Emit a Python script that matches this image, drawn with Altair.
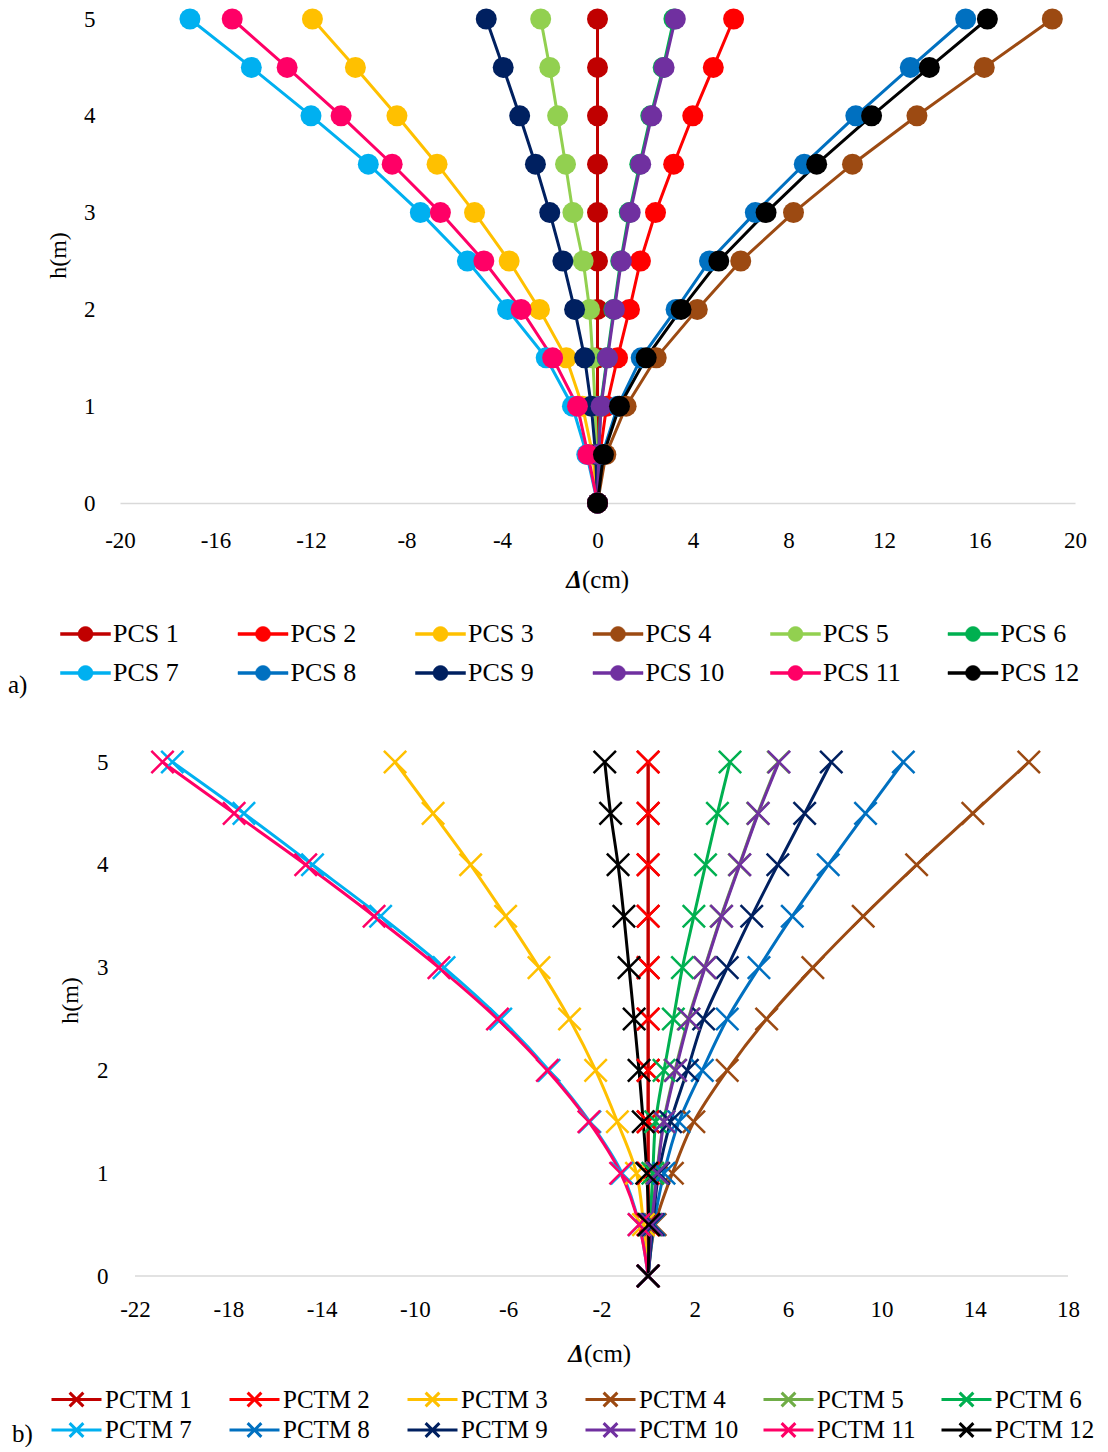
import math
import altair as alt
import pandas as pd

FONT = "Liberation Serif"

H = [0, 0.5, 1, 1.5, 2, 2.5, 3, 3.5, 4, 4.5, 5]

# ---------- panel a) : PCS series ----------
PCS_NAMES = ["PCS 1", "PCS 2", "PCS 3", "PCS 4", "PCS 5", "PCS 6",
             "PCS 7", "PCS 8", "PCS 9", "PCS 10", "PCS 11", "PCS 12"]
PCS_COLORS = ["#C00000", "#FF0000", "#FFC000", "#9C4A12", "#92D050", "#00B050",
              "#00B0F0", "#0070C0", "#002060", "#7030A0", "#FF0066", "#000000"]
pcs1 = [0, 0, 0, 0, 0, 0, 0, 0, 0, 0, 0]
pcs2 = [0, 0.1, 0.38, 0.84, 1.34, 1.8, 2.43, 3.19, 3.99, 4.85, 5.7]
pcs3 = [0, -0.2, -0.63, -1.31, -2.43, -3.7, -5.15, -6.72, -8.4, -10.14, -11.94]
pcs4 = [0, 0.35, 1.2, 2.46, 4.18, 6.0, 8.21, 10.68, 13.38, 16.2, 19.05]
pcs5 = [0, -0.04, -0.1, -0.2, -0.33, -0.6, -1.03, -1.34, -1.67, -2.0, -2.38]
pcs6 = [0, 0.04, 0.13, 0.4, 0.68, 0.97, 1.33, 1.77, 2.23, 2.75, 3.2]
pcs7 = [0, -0.45, -1.05, -2.15, -3.77, -5.45, -7.42, -9.6, -12.0, -14.5, -17.07]
pcs8 = [0, 0.2, 0.85, 1.83, 3.29, 4.69, 6.61, 8.66, 10.82, 13.1, 15.42]
pcs9 = [0, -0.08, -0.26, -0.54, -0.96, -1.45, -2.0, -2.6, -3.26, -3.95, -4.66]
pcs10 = [0, 0.05, 0.15, 0.42, 0.71, 1.0, 1.37, 1.81, 2.27, 2.79, 3.26]
pcs11 = [0, -0.4, -0.84, -1.88, -3.2, -4.76, -6.58, -8.6, -10.74, -13.0, -15.3]
pcs12 = [0, 0.25, 0.92, 2.04, 3.5, 5.08, 7.06, 9.18, 11.48, 13.9, 16.33]
PCS_VALUES = [pcs1, pcs2, pcs3, pcs4, pcs5, pcs6, pcs7, pcs8, pcs9, pcs10, pcs11, pcs12]
A_TICKS = [-20, -16, -12, -8, -4, 0, 4, 8, 12, 16, 20]

# ---------- panel b) : PCTM series ----------
PCTM_NAMES = ["PCTM 1", "PCTM 2", "PCTM 3", "PCTM 4", "PCTM 5", "PCTM 6",
              "PCTM 7", "PCTM 8", "PCTM 9", "PCTM 10", "PCTM 11", "PCTM 12"]
PCTM_COLORS = ["#C00000", "#FF0000", "#FFC000", "#9C4A12", "#70AD47", "#00B050",
               "#00B0F0", "#0070C0", "#002060", "#7030A0", "#FF0066", "#000000"]
pctm1 = [0, 0, 0, 0, 0, 0, 0, 0, 0, 0, 0]
pctm2 = [0, 0, 0, 0, 0, 0, 0, 0, 0, 0, 0]
pctm3 = [0, -0.2, -0.5, -1.32, -2.25, -3.37, -4.68, -6.11, -7.61, -9.22, -10.85]
pctm4 = [0, 0.3, 1.04, 1.96, 3.39, 5.08, 7.06, 9.22, 11.51, 13.92, 16.32]
pctm5 = [0, 0.14, 0.37, 0.66, 1.15, 1.72, 2.42, 3.13, 3.91, 4.7, 5.58]
pctm6 = [0, 0.08, 0.2, 0.32, 0.68, 1.08, 1.47, 1.96, 2.46, 2.97, 3.51]
pctm7 = [0, -0.38, -1.12, -2.5, -4.25, -6.32, -8.75, -11.47, -14.39, -17.33, -20.4]
pctm8 = [0, 0.25, 0.68, 1.32, 2.32, 3.39, 4.75, 6.18, 7.72, 9.32, 10.94]
pctm9 = [0, 0.2, 0.45, 0.96, 1.68, 2.38, 3.39, 4.44, 5.56, 6.71, 7.85]
pctm10 = [0, 0.15, 0.39, 0.68, 1.18, 1.75, 2.44, 3.15, 3.93, 4.72, 5.61]
pctm11 = [0, -0.39, -1.18, -2.54, -4.32, -6.46, -8.97, -11.75, -14.68, -17.75, -20.82]
pctm12 = [0, 0.03, -0.06, -0.21, -0.39, -0.6, -0.82, -1.04, -1.29, -1.61, -1.86]
PCTM_VALUES = [pctm1, pctm2, pctm3, pctm4, pctm5, pctm6, pctm7, pctm8, pctm9,
               pctm10, pctm11, pctm12]
B_TICKS = [-22, -18, -14, -10, -6, -2, 2, 6, 10, 14, 18]
B_AXIS_RANGE = [-22, 18]

Y_TICKS = [0, 1, 2, 3, 4, 5]


def long_frame(names, values):
    rows = []
    for name, vals in zip(names, values):
        for h, v in zip(H, vals):
            rows.append({"series": name, "h": h, "d": v})
    return pd.DataFrame(rows)


def text_mark(txt, x, y, size, weight="normal", style="normal", align="left"):
    return alt.Chart(pd.DataFrame({"t": [txt]})).mark_text(
        font=FONT, fontSize=size, fontWeight=weight, fontStyle=style,
        align=align, baseline="middle", color="black"
    ).encode(text="t:N", x=alt.value(x), y=alt.value(y))


# legend glyphs (line through a marker), polygon circle avoids arc commands
_circ = "M" + "L".join(
    "%.3f,%.3f" % (0.6 * math.cos(2 * math.pi * k / 24), 0.6 * math.sin(2 * math.pi * k / 24))
    for k in range(24)) + "Z"
LEG_A_PATH = "M-2,-0.12L2,-0.12L2,0.12L-2,0.12Z" + _circ
LEG_B_PATH = "M-2,0L2,0M-0.55,-0.55L0.55,0.55M-0.55,0.55L0.55,-0.55"
X_SHAPE = "M-1,-1L1,1M-1,1L1,-1"
HYPHEN_LABEL = "toString(datum.value)"

# ---------------- panel a ----------------
WA, HA = 955, 484
dfa = long_frame(PCS_NAMES, PCS_VALUES)
leg_a = alt.Legend(title=None, orient="none", legendX=-47.5, legendY=602,
                   direction="horizontal", columns=6, gridAlign="all",
                   columnPadding=44.5, rowPadding=13, symbolType=LEG_A_PATH,
                   symbolSize=625, symbolStrokeWidth=0.5, labelFont=FONT,
                   labelFontSize=26, labelOffset=14.5, labelColor="black",
                   labelLimit=300)
color_a = alt.Color("series:N", scale=alt.Scale(domain=PCS_NAMES, range=PCS_COLORS),
                    legend=leg_a)
xa = alt.X("d:Q", scale=alt.Scale(domain=[-20, 20], nice=False, zero=False),
           axis=alt.Axis(values=A_TICKS, title=None, grid=False, ticks=False,
                         domainColor="#D9D9D9", domainWidth=1.5, labelPadding=26,
                         labelFont=FONT, labelFontSize=23, labelColor="black",
                         labelFlush=False, labelExpr=HYPHEN_LABEL))
ya = alt.Y("h:Q", scale=alt.Scale(domain=[0, 5], nice=False),
           axis=alt.Axis(values=Y_TICKS, title="h(m)", grid=False, ticks=False,
                         domain=False, labelPadding=25, labelFont=FONT,
                         labelFontSize=23, labelColor="black", titleFont=FONT,
                         titleFontSize=24, titleFontWeight="normal",
                         titleColor="black", titleX=-62, titleY=236,
                         titleAlign="center", titleBaseline="middle",
                         titleAngle=-90, format="d"))
base_a = alt.Chart(dfa).encode(x=xa, y=ya, color=color_a, order=alt.Order("h:Q"))
line_a = base_a.mark_line(strokeWidth=3)
pt_a = base_a.mark_point(filled=True, shape="circle", size=440, opacity=1)
panel_a = alt.layer(
    line_a, pt_a,
    text_mark("Δ", 462, 561, 25, weight="bold", style="italic", align="right"),
    text_mark("(cm)", 462, 561, 25),
    text_mark("a)", -112, 666, 25),
).properties(width=WA, height=HA)

# ---------------- panel b ----------------
WB, HB = 948, 514
dfb = long_frame(PCTM_NAMES, PCTM_VALUES)
# lines: PCTM 1 drawn above PCTM 2 (they coincide at zero)
line_order = [PCTM_NAMES[1], PCTM_NAMES[0]] + PCTM_NAMES[2:]
dfb_lines = pd.concat([dfb[dfb["series"] == s] for s in line_order], ignore_index=True)
leg_b = alt.Legend(title=None, orient="none", legendX=-57.5, legendY=623.5,
                   direction="horizontal", columns=6, gridAlign="all",
                   columnPadding=19, rowPadding=3.5, symbolType=LEG_B_PATH,
                   symbolSize=625, symbolStrokeWidth=3, labelFont=FONT,
                   labelFontSize=25, labelOffset=14.5, labelColor="black",
                   labelLimit=300)
color_b = alt.Color("series:N", scale=alt.Scale(domain=PCTM_NAMES, range=PCTM_COLORS),
                    legend=leg_b)
xb_scale = alt.Scale(domain=[-22.643, 18], nice=False, zero=False)
xb = alt.X("d:Q", scale=xb_scale,
           axis=alt.Axis(values=B_TICKS, title=None, grid=False, ticks=False,
                         domain=False, labelPadding=22, labelFont=FONT,
                         labelFontSize=23, labelColor="black",
                         labelFlush=False, labelExpr=HYPHEN_LABEL))
yb_scale = alt.Scale(domain=[0, 5], nice=False)
yb = alt.Y("h:Q", scale=yb_scale,
           axis=alt.Axis(values=Y_TICKS, title="h(m)", grid=False, ticks=False,
                         domain=False, labelPadding=12, labelFont=FONT,
                         labelFontSize=23, labelColor="black", titleFont=FONT,
                         titleFontSize=24, titleFontWeight="normal",
                         titleColor="black", titleX=-50, titleY=238,
                         titleAlign="center", titleBaseline="middle",
                         titleAngle=-90, format="d"))
line_b = alt.Chart(dfb_lines).mark_line(strokeWidth=3, interpolate="catmull-rom").encode(
    x=xb, y=yb, color=color_b, order=alt.Order("h:Q"))
pt_b = alt.Chart(dfb).mark_point(filled=False, shape=X_SHAPE, size=500, strokeWidth=2.5,
                                 opacity=1).encode(x=xb, y=yb, color=color_b)
axis_rule_b = alt.Chart(pd.DataFrame({"x1": [B_AXIS_RANGE[0]], "x2": [B_AXIS_RANGE[1]],
                                      "y0": [0]})).mark_rule(
    color="#D9D9D9", strokeWidth=1.5
).encode(x=alt.X("x1:Q", scale=xb_scale), x2="x2:Q",
         y=alt.Y("y0:Q", scale=yb_scale))
panel_b = alt.layer(
    axis_rule_b, line_b, pt_b,
    text_mark("Δ", 464, 592, 25, weight="bold", style="italic", align="right"),
    text_mark("(cm)", 464, 592, 25),
    text_mark("b)", -108, 672, 25),
).properties(width=WB, height=HB)

chart = alt.vconcat(panel_a, panel_b, spacing=47).resolve_scale(
    x="independent", y="independent", color="independent"
).resolve_legend(color="independent").properties(
    padding={"left": 0, "top": 0, "right": 0, "bottom": 0},
    background="white",
).configure_view(stroke=None)

chart.save("out.html", embed_options={"renderer": "svg", "actions": False})
